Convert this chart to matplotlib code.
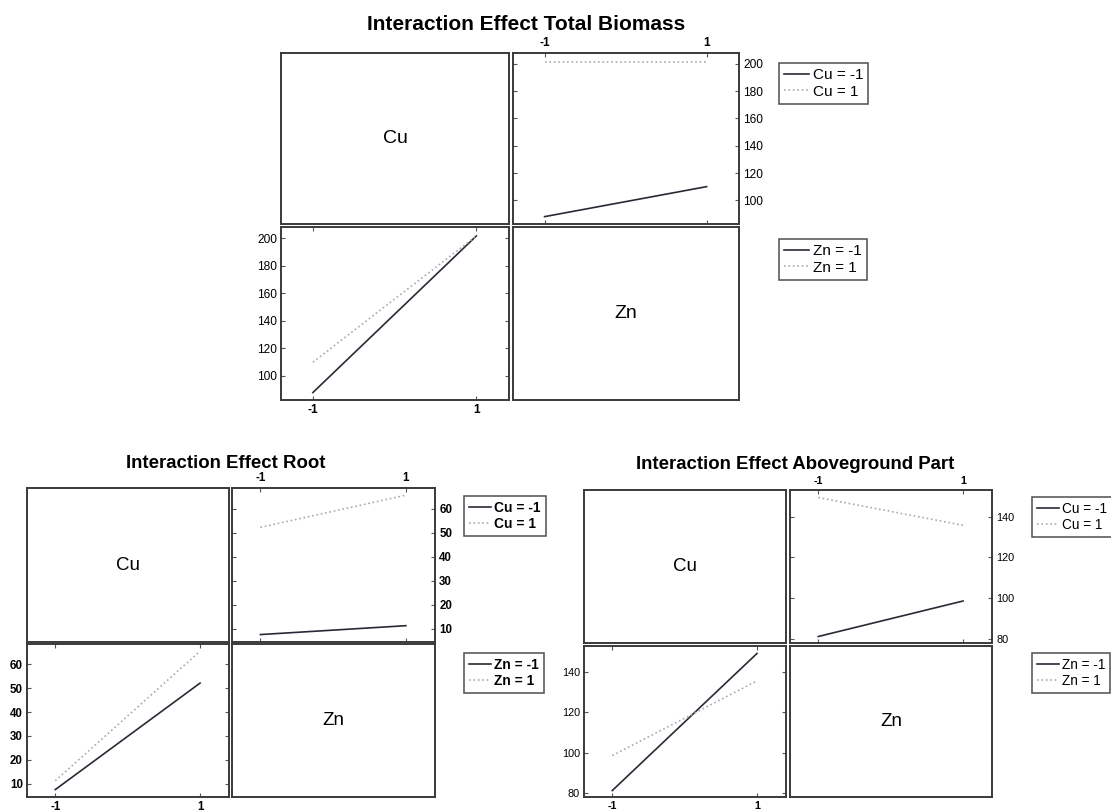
import matplotlib
matplotlib.use('Agg')
import matplotlib.pyplot as plt
from matplotlib.lines import Line2D

plt.rcParams['font.family'] = ['Liberation Sans', 'DejaVu Sans']

levels = [-1, 1]

# cell means: Cu level -1 / 1, each at Zn = -1 and Zn = 1
total_cu_m1 = [88, 110]
total_cu_p1 = [201.5, 201.5]
root_cu_m1 = [7.5, 11.2]
root_cu_p1 = [52.2, 65.6]
above_cu_m1 = [81, 98.5]
above_cu_p1 = [149.5, 135.8]

total_yticks = [100, 120, 140, 160, 180, 200]
root_yticks = [10, 20, 30, 40, 50, 60]
above_yticks = [80, 100, 120, 140]

W, H = 1111, 811
DARK = '#2a2a36'
LIGHT = '#aaaaaa'


def px_rect(x0, y0, x1, y1):
    return [x0 / W, 1 - y1 / H, (x1 - x0) / W, (y1 - y0) / H]


def style_box(ax):
    for s in ax.spines.values():
        s.set_color('#3a3a3a')
        s.set_linewidth(1.4)


def block(fig, title, cu_m1, cu_p1, yticks, ylim, cols, rows, title_xy, title_size,
          leg_xy, tick_size, leg_size, name_size, bold=False):
    xa, xb, xc, xd = cols
    ya, yb, yc, yd = rows
    weight = 'bold' if bold else 'normal'
    ax_cu = fig.add_axes(px_rect(xa, ya, xb, yb))
    ax_tr = fig.add_axes(px_rect(xc, ya, xd, yb))
    ax_bl = fig.add_axes(px_rect(xa, yc, xb, yd))
    ax_zn = fig.add_axes(px_rect(xc, yc, xd, yd))

    for ax, name in [(ax_cu, 'Cu'), (ax_zn, 'Zn')]:
        ax.set_xticks([])
        ax.set_yticks([])
        ax.text(0.5, 0.5, name, transform=ax.transAxes, ha='center', va='center',
                fontsize=name_size)
        style_box(ax)

    # top right: x = Zn, one line per Cu level
    ax_tr.plot(levels, cu_m1, color=DARK, lw=1.2, ls='-')
    ax_tr.plot(levels, cu_p1, color=LIGHT, lw=1.2, ls=':')
    # bottom left: x = Cu, one line per Zn level
    ax_bl.plot(levels, [cu_m1[0], cu_p1[0]], color=DARK, lw=1.2, ls='-')
    ax_bl.plot(levels, [cu_m1[1], cu_p1[1]], color=LIGHT, lw=1.2, ls=':')

    for ax in (ax_tr, ax_bl):
        ax.set_xlim(-1.39, 1.40)
        ax.set_ylim(*ylim)
        ax.set_xticks(levels)
        ax.set_xticklabels(['-1', '1'])
        ax.set_yticks(yticks)
        ax.tick_params(direction='in', length=3, width=0.8, color='#555555',
                       labelsize=tick_size, top=True, bottom=True, left=True, right=True, pad=3)
        style_box(ax)
    ax_tr.tick_params(labeltop=True, labelbottom=False, labelright=True, labelleft=False)
    for ax in (ax_tr, ax_bl):
        for lab in ax.get_yticklabels():
            lab.set_fontweight(weight)
        for lab in ax.get_xticklabels():
            lab.set_fontweight('bold')

    fig.text(title_xy[0] / W, 1 - title_xy[1] / H, title, ha='center', va='center',
             fontsize=title_size, fontweight='bold')

    for prefix, (lx, ly) in zip(['Cu', 'Zn'], leg_xy):
        handles = [Line2D([], [], color=DARK, lw=1.2, ls='-'),
                   Line2D([], [], color=LIGHT, lw=1.2, ls=':')]
        labels = [f'{prefix} = -1', f'{prefix} = 1']
        leg = fig.legend(handles, labels, loc='upper left',
                         bbox_to_anchor=(lx / W, 1 - ly / H), bbox_transform=fig.transFigure,
                         prop={'size': leg_size, 'weight': weight}, frameon=True, fancybox=False,
                         handlelength=1.6, handletextpad=0.25, borderpad=0.35,
                         labelspacing=0.15, borderaxespad=0)
        leg.get_frame().set_edgecolor('#222222')
        leg.get_frame().set_linewidth(1.1)


fig = plt.figure(figsize=(W / 100, H / 100), dpi=100)

block(fig, 'Interaction Effect Total Biomass', total_cu_m1, total_cu_p1, total_yticks,
      (82.6, 208), (281, 509, 513, 739), (53, 224, 227, 400), (526, 25), 15,
      [(779, 63), (779, 239)], 8.6, 11, 14)
block(fig, 'Interaction Effect Root', root_cu_m1, root_cu_p1, root_yticks,
      (4.4, 68.6), (27, 229, 232, 435), (488, 642, 644, 797), (226, 463), 13.4,
      [(464, 496), (464, 653)], 8.3, 9.9, 13.5, bold=True)
block(fig, 'Interaction Effect Aboveground Part', above_cu_m1, above_cu_p1, above_yticks,
      (77.8, 153.2), (584, 786, 790, 992), (490, 643, 646, 797), (795, 465), 13.4,
      [(1032, 497), (1032, 653)], 7.8, 9.8, 13.5)

fig.savefig('out.png', dpi=100)
